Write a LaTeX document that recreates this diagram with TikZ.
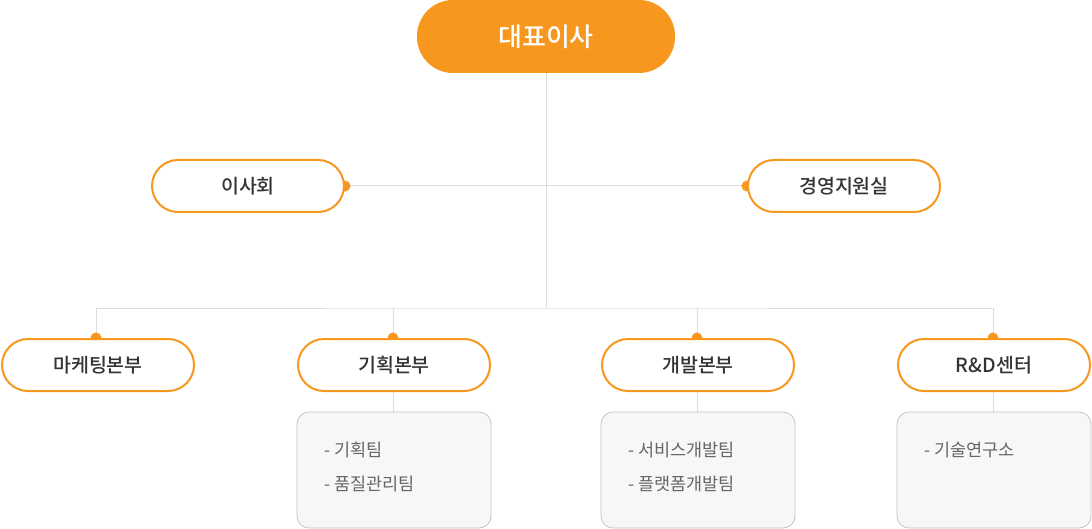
\documentclass[tikz,border=0pt]{standalone}
\usepackage{fontspec}
\setmainfont{Noto Sans CJK KR}
\newfontfamily\krmed{Noto Sans CJK KR Medium}
\usetikzlibrary{backgrounds}
\definecolor{org}{HTML}{F7971E}
\definecolor{lnc}{HTML}{DDDDDD}
\definecolor{txt}{HTML}{333333}
\definecolor{subtxt}{HTML}{666666}
\definecolor{subfill}{HTML}{F7F7F7}
\definecolor{subdraw}{HTML}{C4C4C4}
\tikzset{
  ceobox/.style={fill=org, text=white, minimum width=258pt, minimum height=73pt, rounded corners=36pt, inner sep=0pt, font=\krmed\fontsize{26}{30}\selectfont},
  unitbox/.style={draw=org, line width=2pt, fill=white, text=txt, minimum width=192pt, minimum height=52pt, rounded corners=26pt, inner sep=0pt, font=\krmed\fontsize{19.5}{23}\selectfont},
  subbox/.style={draw=subdraw, line width=0.8pt, fill=subfill, minimum width=194pt, minimum height=116pt, rounded corners=12pt, inner sep=0pt},
  subtext/.style={anchor=west, text=subtxt, inner sep=0pt, font=\fontsize{17.5}{20}\selectfont},
  ln/.style={draw=lnc, line width=1pt},
  dot/.style={fill=org, draw=none},
}
\begin{document}
\begin{tikzpicture}[x=1pt,y=-1pt]
\useasboundingbox (0,0) rectangle (1092,529);
\node[ceobox] (ceo) at (546,36.5) {대표이사};
\node[unitbox] (board) at (248,186) {이사회};
\node[unitbox] (mgmt) at (844,186) {경영지원실};
\node[unitbox] (mkt) at (98,365) {마케팅본부};
\node[unitbox] (plan) at (394,365) {기획본부};
\node[unitbox] (dev) at (698,365) {개발본부};
\node[unitbox] (rnd) at (994,365) {R\&D센터};
\node[subbox] (plansub) at (394,470) {};
\node[subbox] (devsub) at (698,470) {};
\node[subbox] (rndsub) at (994,470) {};
\node[subtext] (p1) at (324,450) {- 기획팀};
\node[subtext] (p2) at (324,484) {- 품질관리팀};
\node[subtext] (d1) at (628,450) {- 서비스개발팀};
\node[subtext] (d2) at (628,484) {- 플랫폼개발팀};
\node[subtext] (r1) at (924,450) {- 기술연구소};
\coordinate (j2) at (546,308);
\coordinate (mktt) at (96,338);
\coordinate (plant) at (393,338);
\coordinate (devt) at (697,338);
\coordinate (rndt) at (993,338);
\begin{scope}[on background layer]
\draw[ln] (ceo.south) -- (j2);
\draw[ln] (board.east) -- (mgmt.west);
\draw[ln] (mktt) |- (j2) -| (rndt);
\draw[ln] (plant) -- (plant |- j2);
\draw[ln] (devt) -- (devt |- j2);
\draw[ln] (plant) -- (plant |- plansub.north);
\draw[ln] (devt) -- (devt |- devsub.north);
\draw[ln] (rndt) -- (rndt |- rndsub.north);
\fill[dot] (board.east) circle (5.5pt);
\fill[dot] (mgmt.west) circle (5.5pt);
\fill[dot] (mktt) circle (5.5pt);
\fill[dot] (plant) circle (5.5pt);
\fill[dot] (devt) circle (5.5pt);
\fill[dot] (rndt) circle (5.5pt);
\end{scope}
\end{tikzpicture}
\end{document}
